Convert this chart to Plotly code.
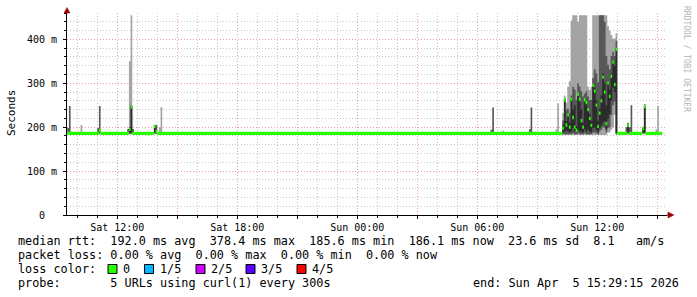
import plotly.graph_objects as go
from datetime import datetime, timedelta

# ---------------- data ----------------
START = datetime(2026, 4, 4, 9, 30, 0)      # first 5-minute step
STEP_MINUTES = 5
N_STEPS = 357
RANGE_START = "2026-04-04 09:29:15"
RANGE_END = "2026-04-05 15:29:15"

QUIET_MEDIAN = 186.0   # ms, flat median level

# steps (index of 5-min step) where something other than the flat median shows
ev_step = [0, 1, 8, 18, 19, 36, 37, 38, 39, 52, 53, 55, 56,
           254, 255, 261, 277, 278, 293, 294,
           297, 298, 299, 300, 301, 302, 303, 304, 305, 306, 307, 308, 309, 310,
           311, 312, 313, 314, 315, 316, 317, 318, 319, 320, 321, 322, 323, 324,
           325, 326, 327, 328, 329,
           335, 336, 337, 338, 345, 346, 353, 354]
ev_median = [186, 186, 186, 186, 193, 186, 195, 246, 186, 202, 190, 186, 186,
             186, 186, 186, 186, 186, 186, 186,
             198, 262, 205, 228, 200, 264, 222, 200, 193, 275, 263, 215, 200, 262,
             256, 240, 220, 204, 295, 282, 250, 202, 232, 260, 314, 280, 208, 301,
             270, 316, 348, 297, 377,
             186, 204, 186, 186, 197, 247, 186, 186]
# light smoke (outermost pings)
ev_light_lo = [None, None, 185, None, None, None, 185, 185, None, None, None, 185, 185,
               None, None, 185, None, None, 185, 185,
               182, 182, 182, 182, 182, 182, 182, 182, 182, 182, 182, 182, 182, 182,
               182, 182, 182, 182, 182, 182, 182, 182, 182, 182, 182, 182, 182, 188,
               188, 194, 200, 228, 182,
               None, None, None, None, None, None, 185, 185]
ev_light_hi = [None, None, 205, None, None, None, 350, 455, None, None, None, 200, 246,
               None, None, 192, None, None, 195, 254,
               232, 272, 255, 292, 305, 443, 455, 455, 455, 440, 455, 455, 455, 455,
               455, 292, 285, 292, 455, 455, 455, 455, 455, 455, 455, 455, 455, 430,
               420, 410, 402, 402, 414,
               None, None, None, None, None, None, 195, 248]
# mid smoke
ev_mid_lo = [185, 185, None, 185, 185, 185, 185, 185, 185, 185, 185, None, None,
             185, 185, None, 185, 185, None, None,
             184, 184, 184, 184, 184, 184, 186, 184, 184, 186, 184, 184, 184, 186,
             184, 184, 184, 184, 188, 188, 186, 184, 190, 194, 200, 198, 188, 198,
             200, 228, 250, 258, 186,
             185, 185, 185, 185, 185, 185, None, None]
ev_mid_hi = [198, 248, None, 198, 248, 196, 200, 250, 196, 205, 205, None, None,
             194, 245, None, 195, 245, None, None,
             215, 266, 240, 242, 232, 272, 292, 286, 262, 300, 292, 282, 270, 276,
             282, 270, 262, 262, 312, 332, 322, 302, 455, 455, 455, 440, 362, 342,
             332, 362, 372, 362, 396,
             200, 210, 200, 250, 200, 252, None, None]
# dark core smoke
ev_core_lo = [None, None, None, None, None, None, 188, 188, None, 188, None, None, None,
              None, None, None, None, None, None, None,
              188, 190, 192, 190, 188, 190, 198, 190, 188, 194, 190, 190, 188, 195,
              190, 194, 190, 188, 198, 200, 194, 188, 198, 204, 210, 214, 194, 220,
              230, 260, 290, 280, 186,
              None, 188, None, None, 188, 188, None, None]
ev_core_hi = [None, None, None, None, None, None, 200, 248, None, 205, None, None, None,
              None, None, None, None, None, None, None,
              204, 262, 214, 230, 210, 264, 240, 250, 202, 276, 264, 240, 210, 262,
              256, 240, 230, 214, 296, 290, 262, 214, 242, 272, 322, 300, 250, 306,
              286, 322, 352, 340, 380,
              None, 207, None, None, 200, 247, None, None]

Y_TICKS = [0, 100, 200, 300, 400]
Y_TICK_TEXT = ["0\u00a0\u00a0", "100\u00a0m", "200\u00a0m", "300\u00a0m", "400\u00a0m"]
X_TICKS = ["2026-04-04 12:00", "2026-04-04 15:00", "2026-04-04 18:00", "2026-04-04 21:00",
           "2026-04-05 00:00", "2026-04-05 03:00", "2026-04-05 06:00", "2026-04-05 09:00",
           "2026-04-05 12:00", "2026-04-05 15:00"]
X_TICK_TEXT = ["Sat 12:00", "", "Sat 18:00", "", "Sun 00:00", "", "Sun 06:00", "",
               "Sun 12:00", ""]

LINE1 = "median rtt:  192.0 ms avg  378.4 ms max  185.6 ms min  186.1 ms now  23.6 ms sd  8.1   am/s"
LINE2 = "packet loss: 0.00 % avg  0.00 % max  0.00 % min  0.00 % now"
LOSS_LABEL = "loss color:"
LOSS_NAMES = ["0", "1/5", "2/5", "3/5", "4/5"]
LOSS_COLORS = ["#26ff00", "#00b8ff", "#d000ff", "#5a00ff", "#ff0000"]
LINE4 = "probe:       5 URLs using curl(1) every 300s"
END_TEXT = "end: Sun Apr  5 15:29:15 2026"
WATERMARK = "RRDTOOL / TOBI OETIKER"

# ---------------- build full series ----------------
median = [QUIET_MEDIAN] * N_STEPS
bands = {name: ([QUIET_MEDIAN] * N_STEPS, [QUIET_MEDIAN] * N_STEPS)
         for name in ("light", "mid", "core")}
src = {"light": (ev_light_lo, ev_light_hi), "mid": (ev_mid_lo, ev_mid_hi),
       "core": (ev_core_lo, ev_core_hi)}
for i, k in enumerate(ev_step):
    if k >= N_STEPS:
        continue
    median[k] = ev_median[i]
    for name, (lo_src, hi_src) in src.items():
        if lo_src[i] is not None:
            bands[name][0][k] = lo_src[i]
            bands[name][1][k] = hi_src[i]

times = [START + timedelta(minutes=STEP_MINUTES * k) for k in range(N_STEPS + 1)]


def ext(a):
    return list(a) + [a[-1]]


fig = go.Figure()


def add_band(lo, hi, color):
    fig.add_trace(go.Scatter(x=times, y=ext(lo), mode="lines", line=dict(width=0, shape="hv"),
                             hoverinfo="skip", showlegend=False))
    fig.add_trace(go.Scatter(x=times, y=ext(hi), mode="lines", line=dict(width=0, shape="hv"),
                             fill="tonexty", fillcolor=color, hoverinfo="skip", showlegend=False))


add_band(*bands["light"], "#a4a4a4")
add_band(*bands["mid"], "#585858")
add_band(*bands["core"], "#2c2c2c")
HALF = 3.75
add_band([m - HALF for m in median], [m + HALF for m in median], LOSS_COLORS[0])

# ---------------- layout ----------------
PL, PR, PT, PB = 67, 667, 13, 215
W, H = PR - PL, PB - PT


def px(x):
    return (x - PL) / W


def py(y):
    return (PB - y) / H


MONO = "DejaVu Sans Mono"
grid_minor = "#c8c8c8"
grid_major = "#e6a0a0"

fig.update_layout(
    width=697, height=297,
    margin=dict(l=PL, r=697 - PR, t=PT, b=297 - PB, pad=0),
    paper_bgcolor="white", plot_bgcolor="white",
    showlegend=False,
    font=dict(family=MONO, size=10, color="black"),
    xaxis=dict(
        type="date", range=[RANGE_START, RANGE_END], fixedrange=True,
        tickmode="array", tickvals=X_TICKS, ticktext=X_TICK_TEXT,
        showgrid=True, gridcolor=grid_major, griddash="1px,2px", gridwidth=1,
        ticks="outside", ticklen=3, tickcolor="black",
        tickfont=dict(family=MONO, size=10, color="black"),
        showline=True, linecolor="black", linewidth=1, zeroline=False,
        minor=dict(dtick=3600000, tick0="2026-04-04 00:00", showgrid=True,
                   gridcolor=grid_minor, griddash="1px,2px", gridwidth=1,
                   ticks="outside", ticklen=2, tickcolor="black"),
        automargin=False,
    ),
    yaxis=dict(
        range=[0, 460], fixedrange=True,
        tickmode="array", tickvals=Y_TICKS, ticktext=Y_TICK_TEXT,
        showgrid=True, gridcolor=grid_major, griddash="1px,2px", gridwidth=1,
        ticks="outside", ticklen=3, tickcolor="black", ticklabelstandoff=4,
        tickfont=dict(family=MONO, size=10, color="black"),
        showline=True, linecolor="black", linewidth=1, zeroline=False,
        minor=dict(dtick=20, showgrid=True, gridcolor=grid_minor, griddash="1px,2px",
                   gridwidth=1, ticks="outside", ticklen=2, tickcolor="black"),
        automargin=False,
    ),
)

ann = []
LEG_FONT = dict(family=MONO, size=11.8, color="black")


def nb(s):
    return s.replace(" ", "\u00a0")


def text(x, y, s, anchor="left", font=LEG_FONT, angle=0, color=None):
    f = dict(font)
    if color:
        f["color"] = color
    ann.append(dict(x=px(x), y=py(y), xref="paper", yref="paper", text=nb(s),
                    showarrow=False, xanchor=anchor, yanchor="middle", font=f,
                    textangle=angle))


text(16, 241, LINE1)
text(16, 255, LINE2)
text(16, 269, LOSS_LABEL)
text(16, 283, LINE4)
text(681, 283, END_TEXT, anchor="right")
box_x = [108, 144.5, 196, 246, 297]
shapes = []
for bx, name, col in zip(box_x, LOSS_NAMES, LOSS_COLORS):
    shapes.append(dict(type="rect", xref="paper", yref="paper",
                       x0=px(bx), x1=px(bx + 9), y0=py(264.5), y1=py(273.5),
                       fillcolor=col, line=dict(color="black", width=1)))
    text(bx + 13, 269, name)

# axis title and watermark
ann.append(dict(x=px(11), y=py(113), xref="paper", yref="paper", text="Seconds",
                showarrow=False, xanchor="center", yanchor="middle", textangle=-90,
                font=dict(family=MONO, size=11, color="black")))
ann.append(dict(x=px(686), y=py(59), xref="paper", yref="paper", text=nb(WATERMARK),
                showarrow=False, xanchor="center", yanchor="middle", textangle=90,
                font=dict(family=MONO, size=8, color="#b4b4b4")))

# axis arrows
ARROW = "#a00000"
shapes.append(dict(type="path", xref="paper", yref="paper",
                   path=f"M {px(64)},{py(13)} L {px(70)},{py(13)} L {px(67)},{py(7.5)} Z",
                   fillcolor=ARROW, line=dict(color=ARROW, width=0.5)))
shapes.append(dict(type="path", xref="paper", yref="paper",
                   path=f"M {px(668)},{py(212)} L {px(668)},{py(218)} L {px(674)},{py(215)} Z",
                   fillcolor=ARROW, line=dict(color=ARROW, width=0.5)))
shapes.append(dict(type="line", xref="paper", yref="paper",
                   x0=px(667), x1=px(668), y0=py(215), y1=py(215),
                   line=dict(color="black", width=1)))

fig.update_layout(annotations=ann, shapes=shapes)
fig.write_html("out.html")
